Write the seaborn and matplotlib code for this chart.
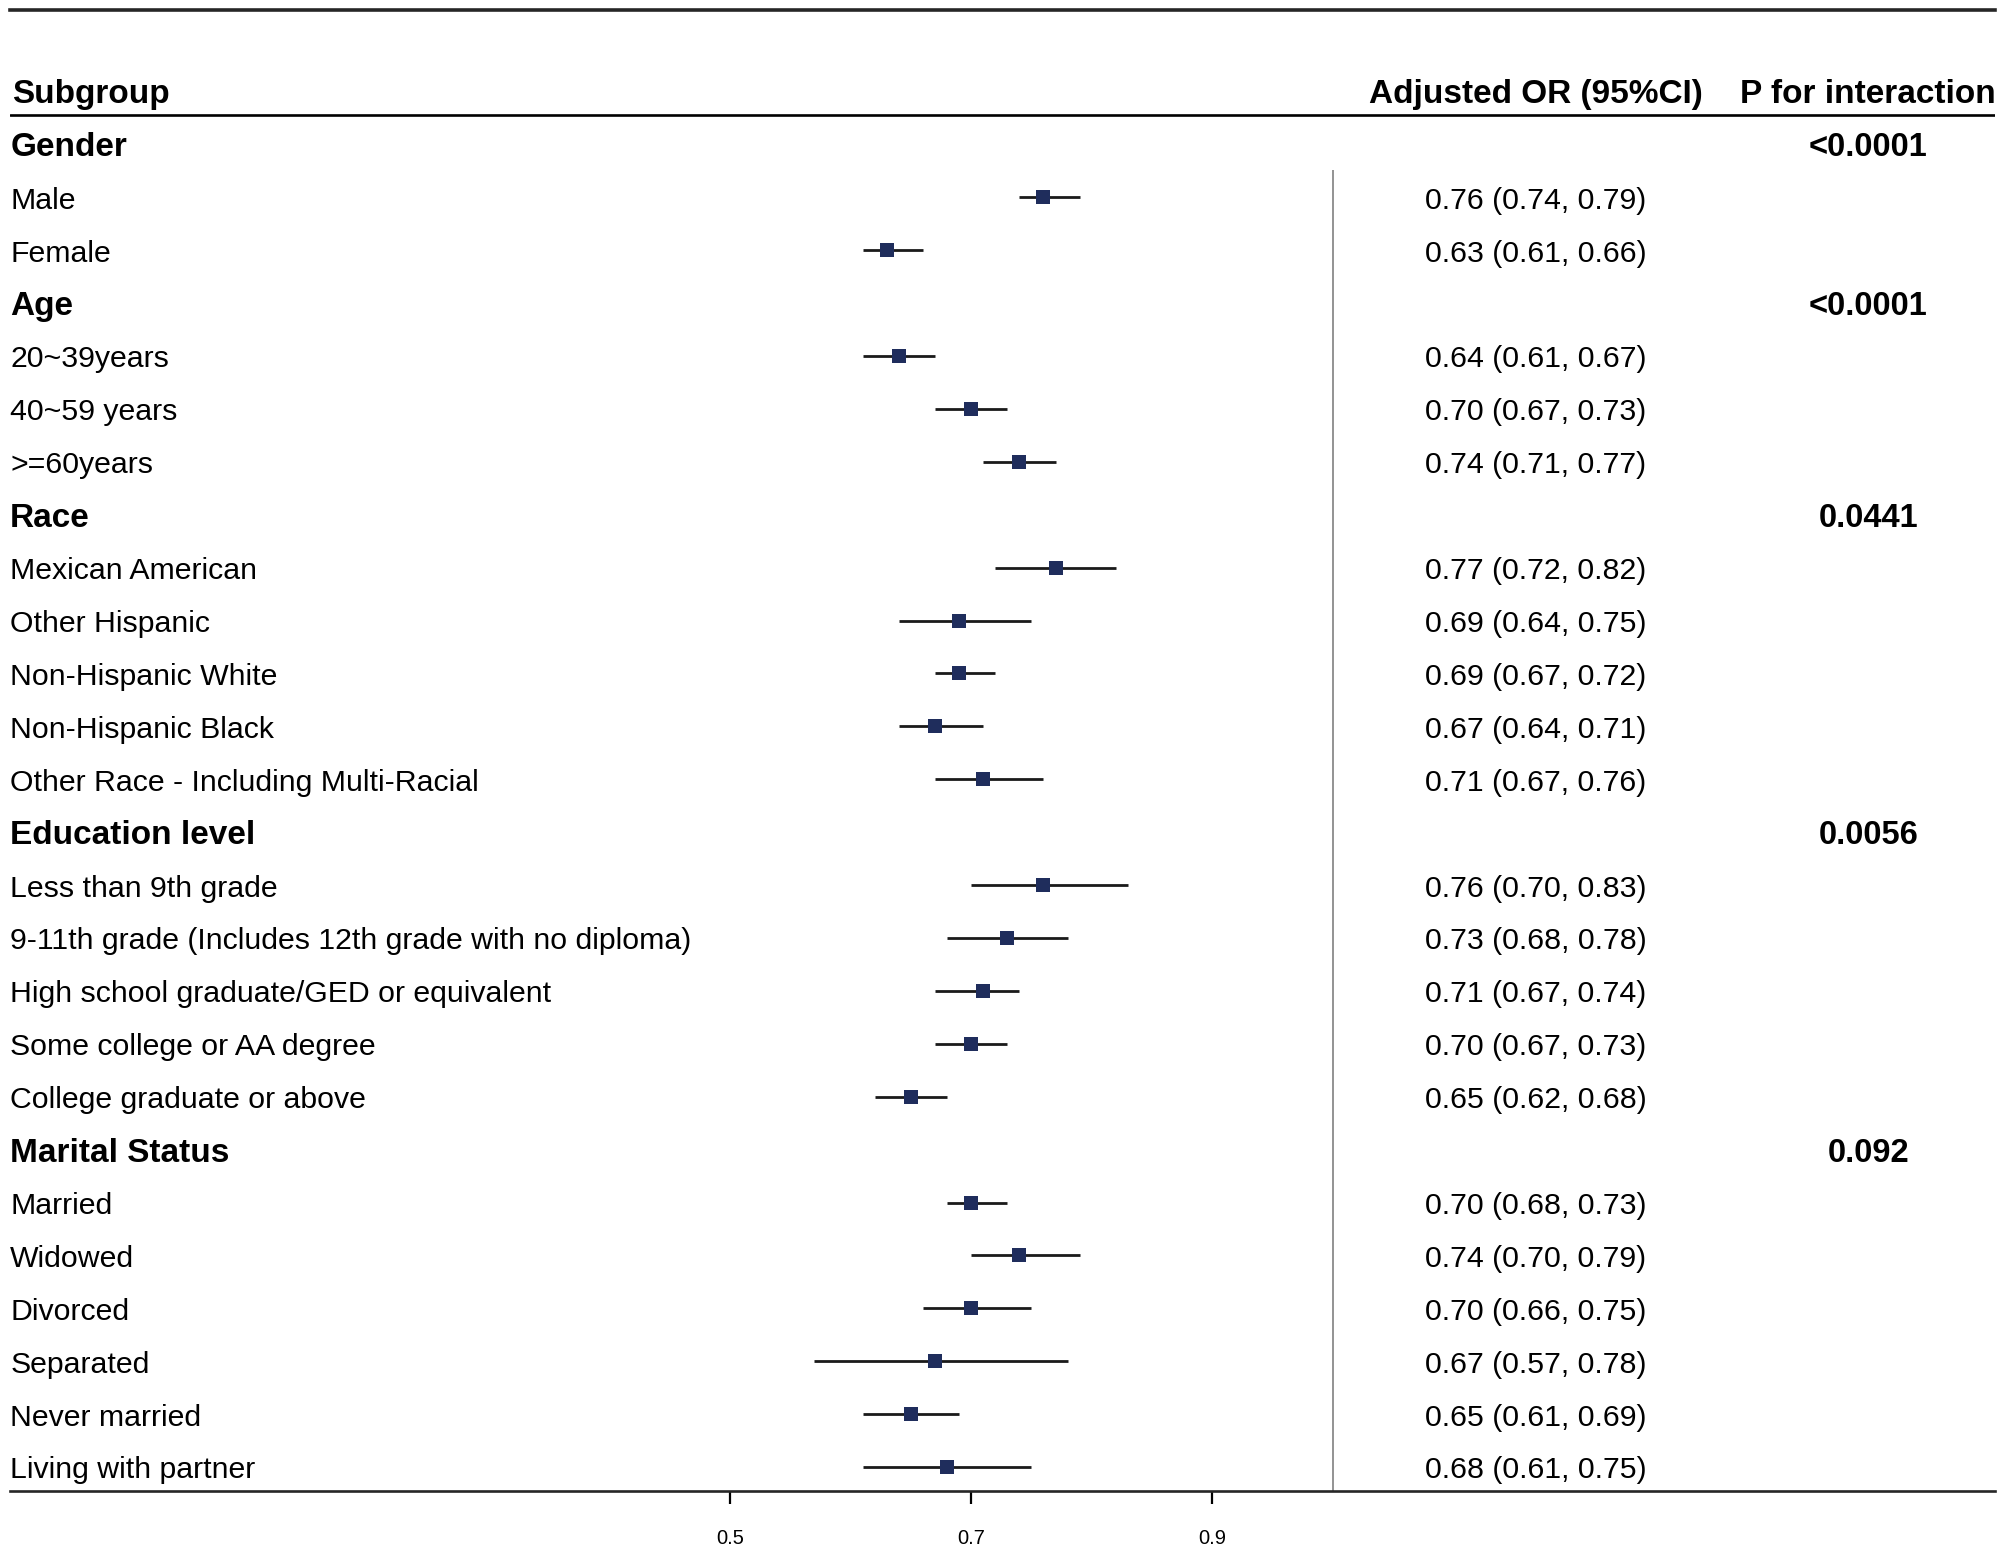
import matplotlib
matplotlib.use("Agg")
import numpy as np
import pandas as pd
import matplotlib.pyplot as plt
import seaborn as sns

# groups and their interaction p values
groups = ["Gender", "Age", "Race", "Education level", "Marital Status"]
p_values = ["<0.0001", "<0.0001", "0.0441", "0.0056", "0.092"]

# subgroups for every group
subgroups = [
    ["Male", "Female"],
    ["20~39years", "40~59 years", ">=60years"],
    ["Mexican American", "Other Hispanic", "Non-Hispanic White",
     "Non-Hispanic Black", "Other Race - Including Multi-Racial"],
    ["Less than 9th grade", "9-11th grade (Includes 12th grade with no diploma)",
     "High school graduate/GED or equivalent", "Some college or AA degree",
     "College graduate or above"],
    ["Married", "Widowed", "Divorced", "Separated", "Never married",
     "Living with partner"],
]

# adjusted OR and 95% CI, same order as subgroups
or_est = [0.76, 0.63,
          0.64, 0.70, 0.74,
          0.77, 0.69, 0.69, 0.67, 0.71,
          0.76, 0.73, 0.71, 0.70, 0.65,
          0.70, 0.74, 0.70, 0.67, 0.65, 0.68]
ci_low = [0.74, 0.61,
          0.61, 0.67, 0.71,
          0.72, 0.64, 0.67, 0.64, 0.67,
          0.70, 0.68, 0.67, 0.67, 0.62,
          0.68, 0.70, 0.66, 0.57, 0.61, 0.61]
ci_high = [0.79, 0.66,
           0.67, 0.73, 0.77,
           0.82, 0.75, 0.72, 0.71, 0.76,
           0.83, 0.78, 0.74, 0.73, 0.68,
           0.73, 0.79, 0.75, 0.78, 0.69, 0.75]

x_ticks = [0.5, 0.7, 0.9]

# build the row table
rows = []
k = 0
for g, p, subs in zip(groups, p_values, subgroups):
    rows.append(dict(label=g, header=True, p=p, est=np.nan, lo=np.nan, hi=np.nan))
    for s in subs:
        rows.append(dict(label=s, header=False, p="", est=or_est[k], lo=ci_low[k], hi=ci_high[k]))
        k += 1
df = pd.DataFrame(rows)
df["row"] = np.arange(len(df))
pts = df[~df.header]

sns.set_style("white")
plt.rcParams["font.family"] = ["Liberation Sans", "DejaVu Sans"]
plt.rcParams["text.color"] = "black"
plt.rcParams["xtick.color"] = "black"

fig = plt.figure(figsize=(20.05, 15.54), dpi=100)
ax = fig.add_axes([8 / 1568, 1 - 1167 / 1216, 1552 / 1568, (1167 - 8) / 1216])

navy = "#1f2d5c"
ax.hlines(pts["row"], pts["lo"], pts["hi"], color="#1a1a1a", lw=2.0, zorder=2)
sns.scatterplot(data=pts, x="est", y="row", marker="s", s=100, color=navy,
                edgecolor=navy, linewidth=0, ax=ax, zorder=3, legend=False)

# scale: 0.5 at 571px, 0.9 at 948px of 1568 wide preview
unit = (948 - 571) / 0.4
ax.set_xlim(0.5 - (571 - 8) / unit, 0.5 + (1560 - 571) / unit)
ax.set_ylim(25.46, -2.536)

# reference line at OR = 1
ax.vlines(1.0, 0.48, 25.46, color="#8a8a8a", lw=1.3, zorder=1)
# header underline
ax.axhline(-0.556, color="black", lw=1.9)

ax.set_xticks(x_ticks)
ax.set_xticklabels([f"{t:.1f}" for t in x_ticks], fontsize=14.5)
ax.set_yticks([])
ax.set_xlabel("")
ax.set_ylabel("")
ax.tick_params(axis="x", direction="out", length=9, width=1.6, pad=18, bottom=True)
for side in ["left", "right"]:
    ax.spines[side].set_visible(False)
ax.spines["top"].set_linewidth(2.6)
ax.spines["bottom"].set_linewidth(1.9)

trans = ax.get_yaxis_transform()
or_x = (1201 - 8) / 1552
p_x = (1461 - 8) / 1552
dy = 0.065  # small nudge so text sits like the original

ax.text(0.001, -1 + dy, "Subgroup", transform=trans, fontsize=24, fontweight="bold", va="center", ha="left")
ax.text(or_x, -1 + dy, "Adjusted OR (95%CI)", transform=trans, fontsize=24, fontweight="bold", va="center", ha="center")
ax.text(p_x, -1 + dy, "P for interaction", transform=trans, fontsize=24, fontweight="bold", va="center", ha="center")

for _, r in df.iterrows():
    if r.header:
        ax.text(0.0, r.row + dy, r.label, transform=trans, fontsize=24, fontweight="bold", va="center", ha="left")
        ax.text(p_x, r.row + dy, r.p, transform=trans, fontsize=23.5, fontweight="bold", va="center", ha="center")
    else:
        ax.text(0.0, r.row + dy, r.label, transform=trans, fontsize=21.8, va="center", ha="left")
        ax.text(or_x, r.row + dy, f"{r.est:.2f} ({r.lo:.2f}, {r.hi:.2f})", transform=trans,
                fontsize=21.8, va="center", ha="center")

fig.savefig("out.png", dpi=100)
